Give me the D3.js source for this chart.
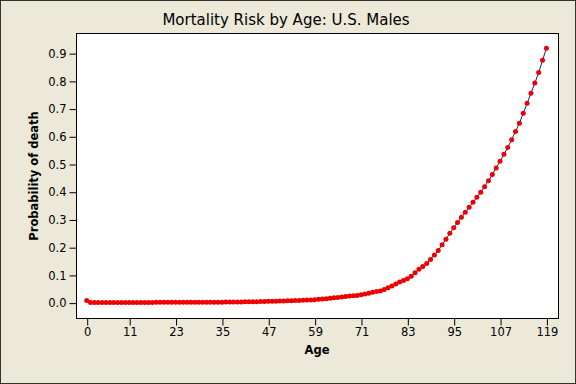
<!DOCTYPE html>
<html>
<head>
<meta charset="utf-8">
<script src="https://cdn.jsdelivr.net/npm/d3@7"></script>
<style>
  html, body { margin: 0; padding: 0; background: #ECE9D8; }
  svg { display: block; }
  text { font-family: Tahoma, "DejaVu Sans", Verdana, sans-serif; }
</style>
</head>
<body>
<svg id="chart" width="576" height="384"></svg>
<script>
// ---- data ----
const title = "Mortality Risk by Age: U.S. Males";
const xLabel = "Age";
const yLabel = "Probability of death";
const ages = d3.range(0, 120);
const probDeath = [
  0.0075, 0.0005, 0.0003, 0.0003, 0.0002, 0.0002, 0.0002, 0.0002, 0.0002, 0.0001,
  0.0001, 0.0001, 0.0002, 0.0003, 0.0004, 0.0006, 0.0007, 0.0008, 0.0010, 0.0011,
  0.0012, 0.0013, 0.0014, 0.0014, 0.0014, 0.0013, 0.0013, 0.0013, 0.0013, 0.0013,
  0.0013, 0.0014, 0.0014, 0.0015, 0.0016, 0.0017, 0.0018, 0.0019, 0.0021, 0.0022,
  0.0024, 0.0027, 0.0029, 0.0032, 0.0035, 0.0038, 0.0041, 0.0045, 0.0049, 0.0053,
  0.0057, 0.0061, 0.0065, 0.0070, 0.0074, 0.0079, 0.0084, 0.0090, 0.0098, 0.0107,
  0.0118, 0.0129, 0.0142, 0.0156, 0.0172, 0.0189, 0.0205, 0.0220, 0.0235, 0.0248,
  0.0260, 0.0280, 0.0310, 0.0340, 0.0370, 0.0400, 0.0420, 0.0470, 0.0540, 0.0600,
  0.0670, 0.0740, 0.0800, 0.0860, 0.0950, 0.1080, 0.1200, 0.1300, 0.1410, 0.1560,
  0.1720, 0.1880, 0.2090, 0.2290, 0.2500, 0.2700, 0.2890, 0.3080, 0.3260, 0.3440,
  0.3620, 0.3800, 0.3980, 0.4180, 0.4400, 0.4620, 0.4860, 0.5100, 0.5350, 0.5600,
  0.5880, 0.6170, 0.6470, 0.6830, 0.7190, 0.7550, 0.7920, 0.8300, 0.8740, 0.9180
];
const xTicks = [0, 11, 23, 35, 47, 59, 71, 83, 95, 107, 119];
const yTicks = [0.0, 0.1, 0.2, 0.3, 0.4, 0.5, 0.6, 0.7, 0.8, 0.9];

// ---- layout ----
const W = 576, H = 384;
const plot = { left: 76, top: 33, right: 558, bottom: 318 };

const svg = d3.select("#chart");

// outer window border
svg.append("rect")
  .attr("x", 0.5).attr("y", 0.5).attr("width", W - 1).attr("height", H - 1)
  .attr("fill", "#ECE9D8").attr("stroke", "#333").attr("stroke-width", 1);

const x = d3.scaleLinear().domain([-2.77, 122]).range([plot.left, plot.right]);
const y = d3.scaleLinear().domain([-0.0555, 0.9727]).range([plot.bottom, plot.top]);

// plot area
svg.append("rect")
  .attr("x", plot.left + 0.5).attr("y", plot.top + 0.5)
  .attr("width", plot.right - plot.left).attr("height", plot.bottom - plot.top)
  .attr("fill", "#fff").attr("stroke", "#000").attr("stroke-width", 1);

// axes
const xAxis = d3.axisBottom(x).tickValues(xTicks).tickFormat(d3.format("d"))
  .tickSizeInner(7).tickSizeOuter(0).tickPadding(2);
const gx = svg.append("g").attr("transform", `translate(0.5,${plot.bottom + 0.5})`).call(xAxis);
gx.select(".domain").remove();
gx.selectAll("text").attr("font-size", 11.5).attr("fill", "#000")
  .attr("font-family", "Tahoma, 'DejaVu Sans', sans-serif");
gx.selectAll("line").attr("stroke", "#000");

const yAxis = d3.axisLeft(y).tickValues(yTicks).tickFormat(d3.format(".1f"))
  .tickSizeInner(7).tickSizeOuter(0).tickPadding(3);
const gy = svg.append("g").attr("transform", `translate(${plot.left + 0.5},0.5)`).call(yAxis);
gy.select(".domain").remove();
gy.selectAll("text").attr("font-size", 11.5).attr("fill", "#000")
  .attr("font-family", "Tahoma, 'DejaVu Sans', sans-serif");
gy.selectAll("line").attr("stroke", "#000");

// line
const data = ages.map((a, i) => ({ age: a, p: probDeath[i] }));
svg.append("path")
  .datum(data)
  .attr("fill", "none")
  .attr("stroke", "#1a1a9a")
  .attr("stroke-width", 1)
  .attr("d", d3.line().x(d => x(d.age)).y(d => y(d.p)));

// markers
svg.append("g").selectAll("circle")
  .data(data)
  .join("circle")
  .attr("cx", d => x(d.age))
  .attr("cy", d => y(d.p))
  .attr("r", 2.5)
  .attr("fill", "#ee0000");

// title
svg.append("text")
  .attr("x", 286).attr("y", 25)
  .attr("text-anchor", "middle")
  .attr("font-size", 15)
  .attr("fill", "#000")
  .text(title);

// axis labels
svg.append("text")
  .attr("x", 317).attr("y", 354)
  .attr("text-anchor", "middle")
  .attr("font-size", 11.5)
  .attr("font-weight", "bold")
  .attr("fill", "#000")
  .text(xLabel);

svg.append("text")
  .attr("transform", "translate(38,176) rotate(-90)")
  .attr("text-anchor", "middle")
  .attr("font-size", 11.5)
  .attr("font-weight", "bold")
  .attr("fill", "#000")
  .text(yLabel);
</script>
</body>
</html>
